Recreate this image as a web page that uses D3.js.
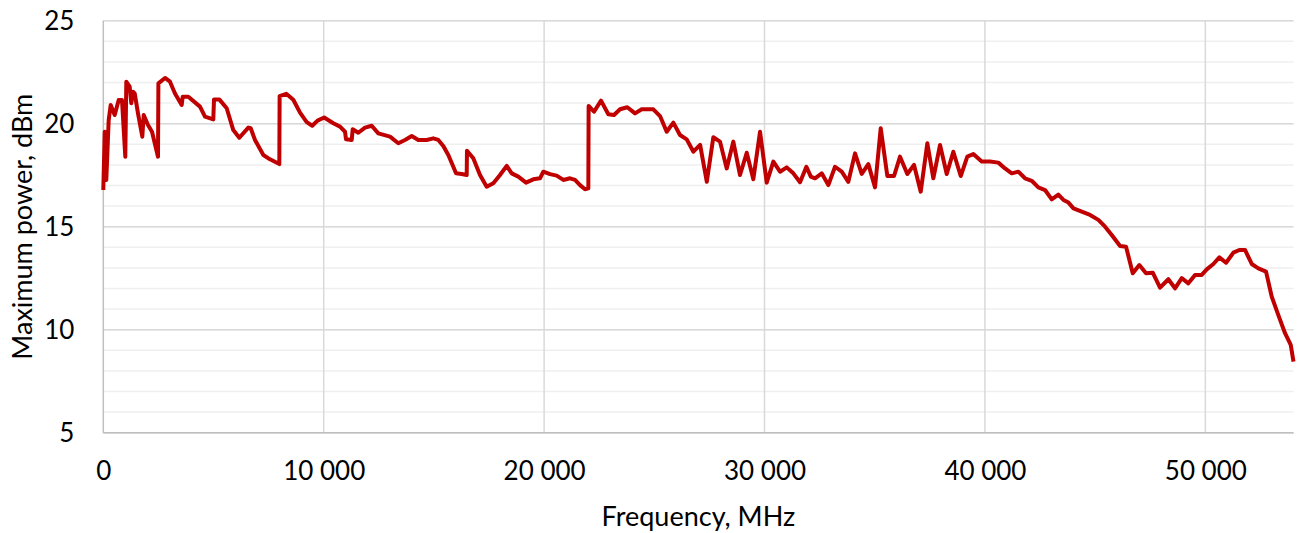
<!DOCTYPE html>
<meta charset="utf-8">
<script src="https://d3js.org/d3.v7.min.js"></script>
<style>
  body { margin: 0; background: #fff; }
  text { font-family: Lato, "Open Sans", sans-serif; fill: #000; }
</style>
<div id="chart"></div>
<script>

// frequency (MHz) and maximum power (dBm)
var freq = [0, 64, 136, 245, 336, 517, 699, 848, 998, 1044, 1197, 1270, 1347, 1425, 1574,
  1770, 1833, 2028, 2210, 2482, 2500, 2800, 3026, 3253, 3557, 3602, 3857, 4387, 4614, 4991,
  5023, 5263, 5599, 5898, 6171, 6579, 6688, 6883, 7260, 7563, 7986, 8000, 8300, 8620, 8925,
  9229, 9480, 9720, 10020, 10436, 10740, 10967, 11012, 11270, 11316, 11570, 11874, 12178,
  12477, 13008, 13385, 13689, 13993, 14292, 14673, 14973, 15200, 15426, 15653, 15880, 16003,
  16261, 16488, 16500, 16787, 17091, 17395, 17695, 17999, 18303, 18530, 18829, 19179, 19510,
  19814, 19963, 20268, 20571, 20871, 21175, 21402, 21629, 21856, 22006, 22020, 22264, 22582,
  22913, 23172, 23444, 23775, 24125, 24428, 24955, 25259, 25562, 25862, 26166, 26470, 26773,
  27078, 27382, 27677, 27981, 28285, 28584, 28888, 29193, 29492, 29796, 30100, 30400, 30703,
  31008, 31307, 31611, 31900, 32100, 32292, 32595, 32895, 33199, 33503, 33802, 34106, 34410,
  34710, 35014, 35272, 35572, 35876, 36148, 36479, 36783, 37087, 37387, 37659, 37963, 38267,
  38566, 38902, 39201, 39474, 39855, 40232, 40608, 40912, 41216, 41516, 41819, 42123, 42423,
  42727, 43031, 43330, 43563, 43790, 44017, 44392, 44770, 45147, 45451, 45753, 46131, 46402,
  46706, 47005, 47310, 47614, 47945, 48322, 48625, 48930, 49229, 49533, 49837, 50064, 50364,
  50636, 50940, 51272, 51543, 51801, 52105, 52405, 52754, 53013, 53312, 53616, 53874, 54000];

var power = [16.78, 19.61, 17.27, 20.18, 20.91, 20.42, 21.15, 21.15, 18.40, 22.04, 21.80, 20.99, 21.55, 21.47, 20.50,
  19.37, 20.42, 19.94, 19.61, 18.40, 21.96, 22.22, 22.04, 21.47, 20.91, 21.31, 21.31, 20.83, 20.34, 20.21,
  21.18, 21.18, 20.75, 19.69, 19.32, 19.81, 19.78, 19.21, 18.48, 18.27, 18.04, 21.34, 21.45, 21.16, 20.54,
  20.08, 19.90, 20.15, 20.30, 20.02, 19.86, 19.61, 19.24, 19.21, 19.73, 19.56, 19.81, 19.90,
  19.53, 19.37, 19.05, 19.21, 19.40, 19.21, 19.21, 19.29, 19.21, 18.92, 18.48, 17.91, 17.59,
  17.56, 17.51, 18.69, 18.32, 17.51, 16.94, 17.11, 17.51, 17.95, 17.59, 17.43, 17.14, 17.30,
  17.35, 17.67, 17.55, 17.48, 17.27, 17.35, 17.27, 17.02, 16.82, 16.86, 20.86, 20.58, 21.12,
  20.46, 20.42, 20.70, 20.80, 20.50, 20.70, 20.70, 20.37, 19.61, 20.05, 19.45, 19.24, 18.64,
  18.97, 17.18, 19.34, 19.13, 17.83, 19.13, 17.51, 18.59, 17.30, 19.61, 17.14, 18.16, 17.67,
  17.88, 17.59, 17.16, 17.91, 17.43, 17.35, 17.59, 17.02, 17.91, 17.67, 17.18, 18.56, 17.56,
  18.04, 16.91, 19.78, 17.46, 17.46, 18.40, 17.56, 18.00, 16.70, 19.05, 17.35, 18.97, 17.56,
  18.64, 17.46, 18.40, 18.53, 18.16, 18.16, 18.11, 17.83, 17.59, 17.67, 17.35, 17.23, 16.91,
  16.78, 16.33, 16.56, 16.30, 16.17, 15.89, 15.73, 15.57, 15.33, 15.00, 14.60, 14.06, 14.03,
  12.74, 13.14, 12.74, 12.77, 12.04, 12.45, 12.01, 12.50, 12.25, 12.66, 12.66, 12.93, 13.19,
  13.51, 13.25, 13.74, 13.87, 13.87, 13.19, 12.98, 12.82, 11.60, 10.71, 9.83, 9.26, 8.45];

var xTicks = [0, 10000, 20000, 30000, 40000, 50000];
var yTicks = [5, 10, 15, 20, 25];
var yMinor = d3.range(5, 26, 1);

var data = freq.map(function(f, i) { return {f: f, p: power[i]}; });

var margin = {top: 20.7, right: 6.5, bottom: 100.3, left: 103.3},
    W = 1300, H = 533,
    width = W - margin.left - margin.right,
    height = H - margin.top - margin.bottom;

var svg = d3.select("#chart").append("svg")
    .attr("width", W)
    .attr("height", H);

var g = svg.append("g")
    .attr("transform", "translate(" + margin.left + "," + margin.top + ")");

var x = d3.scaleLinear().domain([0, 54000]).range([0, width]);
var y = d3.scaleLinear().domain([5, 25]).range([height, 0]);

var fmt = d3.formatLocale({decimal: ",", thousands: " ", grouping: [3], currency: ["", ""]}).format(",d");

// minor horizontal gridlines
g.selectAll(".minor").data(yMinor).enter().append("line")
    .attr("x1", 0).attr("x2", width)
    .attr("y1", function(d) { return y(d); })
    .attr("y2", function(d) { return y(d); })
    .attr("stroke", "#efefef")
    .attr("stroke-width", 1.5);

// major horizontal gridlines
g.selectAll(".major").data(yTicks).enter().append("line")
    .attr("x1", 0).attr("x2", width)
    .attr("y1", function(d) { return y(d); })
    .attr("y2", function(d) { return y(d); })
    .attr("stroke", "#d9d9d9")
    .attr("stroke-width", 1.5);

// vertical gridlines
g.selectAll(".vgrid").data(xTicks.slice(1)).enter().append("line")
    .attr("x1", function(d) { return x(d); })
    .attr("x2", function(d) { return x(d); })
    .attr("y1", 0).attr("y2", height)
    .attr("stroke", "#d9d9d9")
    .attr("stroke-width", 1.5);

// axis lines
g.append("line").attr("x1", 0).attr("x2", 0).attr("y1", 0).attr("y2", height)
    .attr("stroke", "#bfbfbf").attr("stroke-width", 1.5);
g.append("line").attr("x1", 0).attr("x2", width).attr("y1", height).attr("y2", height)
    .attr("stroke", "#bfbfbf").attr("stroke-width", 1.5);

// tick labels
var xAxis = g.append("g")
    .attr("transform", "translate(0," + height + ")")
    .call(d3.axisBottom(x).tickValues(xTicks).tickFormat(fmt).tickSize(0).tickPadding(29));
xAxis.select(".domain").remove();
xAxis.selectAll("text").style("font-size", "26px").style("font-family", "Lato, sans-serif").attr("fill", "#000");

var yAxis = g.append("g")
    .call(d3.axisLeft(y).tickValues(yTicks).tickSize(0).tickPadding(29));
yAxis.select(".domain").remove();
yAxis.selectAll("text").style("font-size", "26px").style("font-family", "Lato, sans-serif").attr("fill", "#000");

// the data line
var line = d3.line()
    .x(function(d) { return x(d.f); })
    .y(function(d) { return y(d.p); });

g.append("path")
    .datum(data)
    .attr("d", line)
    .attr("fill", "none")
    .attr("stroke", "#c00000")
    .attr("stroke-width", 4)
    .attr("stroke-linejoin", "round");

// axis titles
svg.append("text")
    .attr("x", margin.left + width / 2)
    .attr("y", 526)
    .style("text-anchor", "middle")
    .style("font-size", "27px")
    .text("Frequency, MHz");

svg.append("text")
    .attr("transform", "translate(32," + (margin.top + height / 2) + ") rotate(-90)")
    .style("text-anchor", "middle")
    .style("font-size", "27px")
    .text("Maximum power, dBm");

</script>
